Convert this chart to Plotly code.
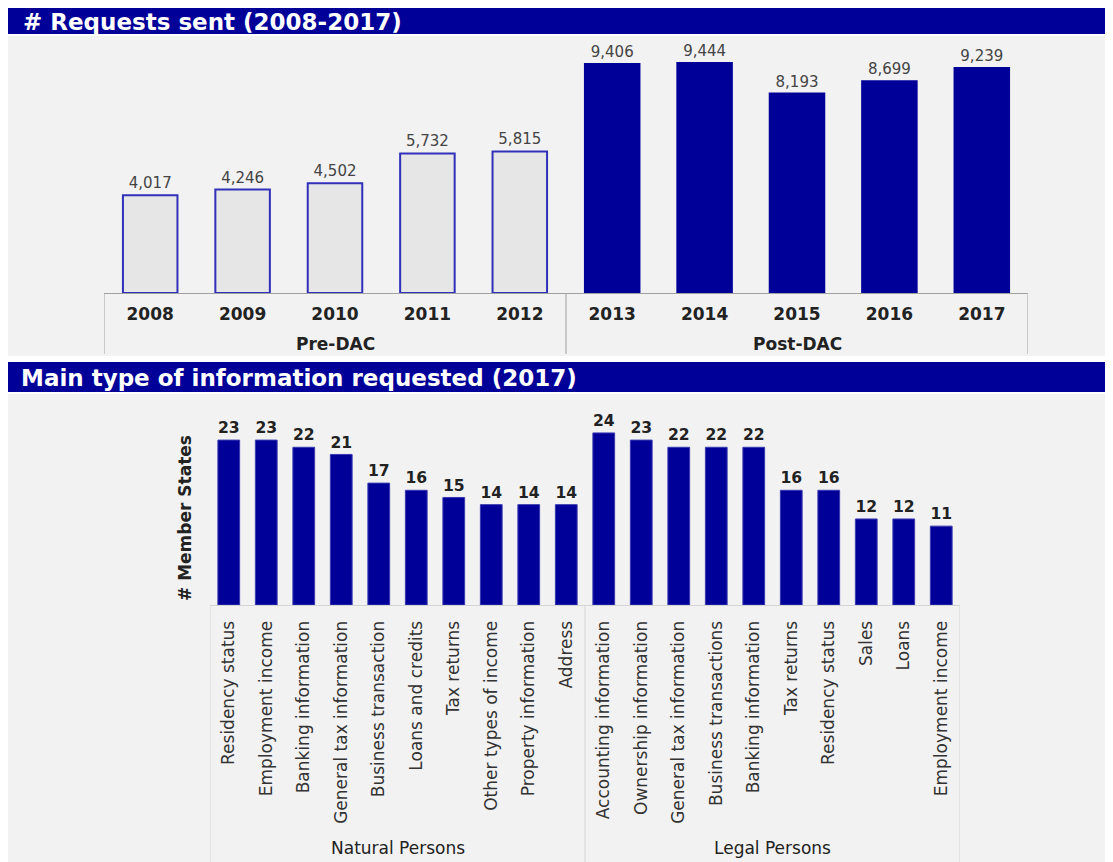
import plotly.graph_objects as go

# ---- datos ----
years = ["2008", "2009", "2010", "2011", "2012", "2013", "2014", "2015", "2016", "2017"]
periods = ["Pre-DAC"] * 5 + ["Post-DAC"] * 5
requests_sent = [4017, 4246, 4502, 5732, 5815, 9406, 9444, 8193, 8699, 9239]

info_types = ["Residency status", "Employment income", "Banking information",
              "General tax information", "Business transaction", "Loans and credits",
              "Tax returns", "Other types of income", "Property information", "Address",
              "Accounting information", "Ownership information", "General tax information",
              "Business transactions", "Banking information", "Tax returns",
              "Residency status", "Sales", "Loans", "Employment income"]
person_groups = ["Natural Persons"] * 10 + ["Legal Persons"] * 10
member_states = [23, 23, 22, 21, 17, 16, 15, 14, 14, 14,
                 24, 23, 22, 22, 22, 16, 16, 12, 12, 11]

NAVY = "#000099"
FONT = "Verdana, DejaVu Sans, sans-serif"
# la página tiene 8px de margen en el body
W, H = 1105, 854


def py(v):
    return 1 - v / H


def pxx(v):
    return v / W


def group_spans(groups):
    """Devuelve (nombre, primer índice, último índice) de cada grupo consecutivo"""
    spans = []
    start = 0
    for i in range(1, len(groups) + 1):
        if i == len(groups) or groups[i] != groups[start]:
            spans.append((groups[start], start, i - 1))
            start = i
    return spans


fig = go.Figure()

idx_top = list(range(len(years)))
fig.add_trace(go.Bar(
    x=idx_top,
    y=requests_sent,
    marker=dict(
        color=["#e6e6e6" if p == "Pre-DAC" else NAVY for p in periods],
        line=dict(color=["#3030b8" if p == "Pre-DAC" else NAVY for p in periods], width=2),
    ),
    width=0.59,
    texttemplate="%{y:,}",
    textposition="outside",
    textfont=dict(family=FONT, size=15, color="#444"),
    cliponaxis=False,
    xaxis="x", yaxis="y",
    showlegend=False,
))

idx_bot = list(range(len(info_types)))
fig.add_trace(go.Bar(
    x=idx_bot,
    y=member_states,
    marker=dict(color=NAVY, line=dict(color="#3a3ab0", width=1)),
    width=0.58,
    texttemplate="%{y}",
    textposition="outside",
    textfont=dict(family=FONT, size=16, color="#222", weight="bold"),
    cliponaxis=False,
    xaxis="x2", yaxis="y2",
    showlegend=False,
))

# fondos y cabeceras de los paneles
shapes = []
for y0, y1, col in [(0, 26, NAVY), (28, 348, "#f2f2f2"), (354, 384, NAVY), (386, 854, "#f2f2f2")]:
    shapes.append(dict(type="rect", xref="paper", yref="paper",
                       x0=0, x1=1, y0=py(y1), y1=py(y0),
                       fillcolor=col, line=dict(width=0), layer="below"))

annotations = [
    dict(text="<b># Requests sent (2008-2017)</b>", xref="paper", yref="paper",
         x=pxx(13), y=py(14), xanchor="left", yanchor="middle", showarrow=False,
         font=dict(family=FONT, size=23, color="white")),
    dict(text="<b>Main type of information requested (2017)</b>", xref="paper", yref="paper",
         x=pxx(11), y=py(370), xanchor="left", yanchor="middle", showarrow=False,
         font=dict(family=FONT, size=23, color="white")),
]

# separadores y etiquetas de grupo (eje de categorías en dos niveles)
for groups, xref, base, bottom, label_y, col, bold in [
        (periods, "x", 285, 346, 336, "#a0a0a0", True),
        (person_groups, "x2", 597, 854, 840, "#d4d4d4", False)]:
    spans = group_spans(groups)
    edges = [spans[0][1] - 0.5] + [s[2] + 0.5 for s in spans]
    for e in edges:
        shapes.append(dict(type="line", xref=xref, yref="paper", x0=e, x1=e,
                           y0=py(base), y1=py(bottom), line=dict(color=col, width=1)))
    for name, a, b in spans:
        annotations.append(dict(
            text=f"<b>{name}</b>" if bold else name, xref=xref, yref="paper",
            x=(a + b) / 2, y=py(label_y), xanchor="center", yanchor="middle",
            showarrow=False, font=dict(family=FONT, size=17, color="#222")))

fig.update_layout(
    width=W, height=H,
    margin=dict(l=0, r=0, t=0, b=0),
    paper_bgcolor="white",
    plot_bgcolor="rgba(0,0,0,0)",
    shapes=shapes,
    annotations=annotations,
    xaxis=dict(
        domain=[pxx(96), pxx(1020)], anchor="y",
        range=[-0.5, len(years) - 0.5],
        tickmode="array", tickvals=idx_top, ticktext=years,
        showline=True, linecolor="#a0a0a0", linewidth=1,
        ticks="", showgrid=False, zeroline=False, ticklabelstandoff=6,
        tickfont=dict(family=FONT, size=17, color="#222", weight="bold"),
    ),
    yaxis=dict(
        domain=[py(285), py(32)], anchor="x",
        range=[0, 10390],
        showticklabels=False, showgrid=False, zeroline=False, showline=False,
    ),
    xaxis2=dict(
        domain=[pxx(202), pxx(952)], anchor="y2",
        range=[-0.5, len(info_types) - 0.5],
        tickmode="array", tickvals=idx_bot, ticktext=info_types,
        showline=True, linecolor="#d4d4d4", linewidth=1,
        ticks="", showgrid=False, zeroline=False, tickangle=-90, ticklabelstandoff=8,
        tickfont=dict(family=FONT, size=17, color="#333"),
    ),
    yaxis2=dict(
        domain=[py(597), py(423.5)], anchor="x2",
        range=[0, 24.2],
        showticklabels=False, showgrid=False, zeroline=False, showline=False,
    ),
)

fig.add_annotation(text="<b># Member States</b>", xref="paper", yref="paper",
                   x=pxx(177), y=py(510), textangle=-90, showarrow=False,
                   xanchor="center", yanchor="middle",
                   font=dict(family=FONT, size=17, color="#222"))

fig.write_html("out.html")
